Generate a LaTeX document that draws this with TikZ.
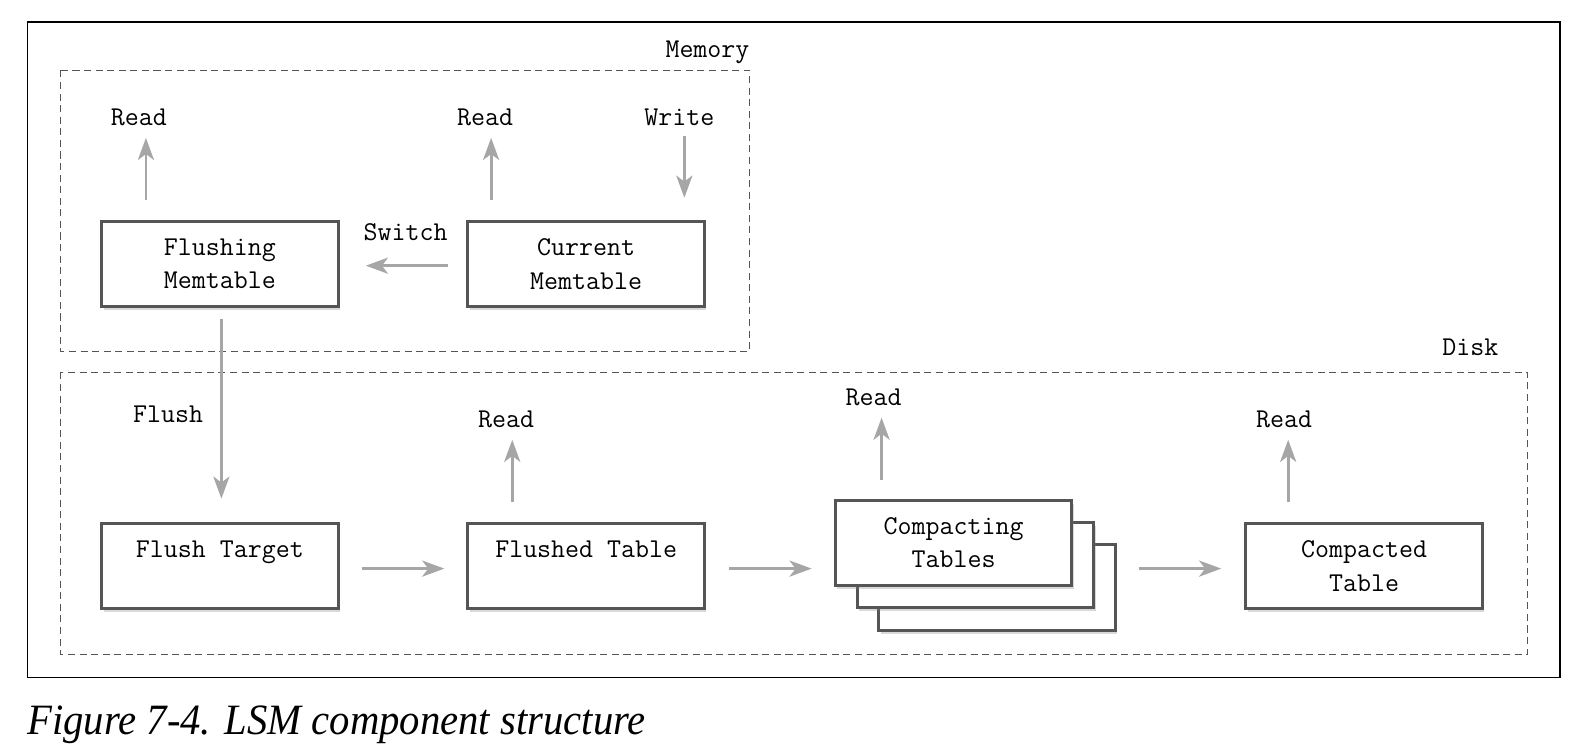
\documentclass[tikz,border=0pt]{standalone}
\usepackage{fontspec}
\newfontfamily\capfont[FakeStretch=0.94]{Liberation Serif}
\usetikzlibrary{arrows.meta,shadows}
\definecolor{boxgray}{HTML}{555555}
\definecolor{arrgray}{HTML}{A6A6A6}
\definecolor{dashgray}{HTML}{555555}
\begin{document}
\begin{tikzpicture}[x=1pt,y=-1pt,
 box/.style={draw=boxgray, line width=3pt, fill=white, minimum width=235pt, minimum height=85pt, inner sep=0pt, align=center, font=\fontsize{27}{33}\selectfont\ttfamily, drop shadow={opacity=0.3, shadow xshift=2pt, shadow yshift=-3.5pt}},
 lbl/.style={font=\fontsize{27}{33}\selectfont\ttfamily, inner sep=0pt},
 arr/.style={draw=arrgray, line width=2.8pt, -{Stealth[length=22pt,width=16pt,inset=6pt]}},
 region/.style={draw=dashgray, line width=1.2pt, dash pattern=on 7pt off 4.5pt}]
\path[use as bounding box] (0,0) rectangle (1568,751);
% outer frame
\draw[line width=1.3pt] (27,22) rectangle (1550,673);
% regions
\draw[region] (60,70) rectangle (745,349);
\node[lbl] (memlbl) at (703,52) {Memory};
\draw[region] (60,370) rectangle (1518,650);
\node[lbl] (disklbl) at (1461,345) {Disk};
% boxes
\node[box] (fm) at (218.5,262.5) {Flushing\\Memtable};
\node[box] (cm) at (582.5,262.5) {Current\\Memtable};
\node[box] (ft) at (218.5,562.5) {Flush Target\\\phantom{Memtable}};
\node[box] (fdt) at (582.5,562.5) {Flushed Table\\\phantom{Memtable}};
\node[box] (c3) at (990.5,584) {};
\node[box] (c2) at (969.5,561.5) {};
\node[box] (ct) at (947.5,539.5) {Compacting\\Tables};
\node[box] (cd) at (1355.5,562.5) {Compacted\\Table};
% labels
\node[lbl] (r1) at (138,117) {Read};
\node[lbl] (r2) at (482,117) {Read};
\node[lbl] (wr) at (675,117) {Write};
\node[lbl] (sw) at (403,231) {Switch};
\node[lbl] (fl) at (167,412) {Flush};
\node[lbl] (r3) at (503,417) {Read};
\node[lbl] (r4) at (868,395) {Read};
\node[lbl] (r5) at (1276,417) {Read};
% free ends
\coordinate (r1e) at (145,137);
\coordinate (r2e) at (488,137);
\coordinate (wrs) at (680,135);
\coordinate (r3e) at (509,437);
\coordinate (r4e) at (876,415);
\coordinate (r5e) at (1280,437);
% arrows
\draw[arr] ([shift={(-73.5,-20)}]fm.north) -- (r1e);
\draw[arr] ([shift={(-94.5,-20)}]cm.north) -- (r2e);
\draw[arr] (wrs) -- ([shift={(97.5,-22)}]cm.north);
\draw[arr] ([shift={(-18,1.5)}]cm.west) -- ([shift={(26,1.5)}]fm.east);
\draw[arr] ([shift={(1.5,10)}]fm.south) -- ([shift={(1.5,-23)}]ft.north);
\draw[arr] ([shift={(22,2.5)}]ft.east) -- ([shift={(-22,2.5)}]fdt.west);
\draw[arr] ([shift={(23,2.5)}]fdt.east) -- ([shift={(-22,25.5)}]ct.west);
\draw[arr] ([shift={(22,-19)}]c3.east) -- ([shift={(-23,2.5)}]cd.west);
\draw[arr] ([shift={(-73.5,-20)}]fdt.north) -- (r3e);
\draw[arr] ([shift={(-71.5,-19)}]ct.north) -- (r4e);
\draw[arr] ([shift={(-75.5,-20)}]cd.north) -- (r5e);
% caption
\node[anchor=base west, font=\fontsize{43}{48}\selectfont\capfont\itshape, inner sep=0pt] (cap) at (27,730) {Figure 7-4. LSM component structure};
\end{tikzpicture}
\end{document}
